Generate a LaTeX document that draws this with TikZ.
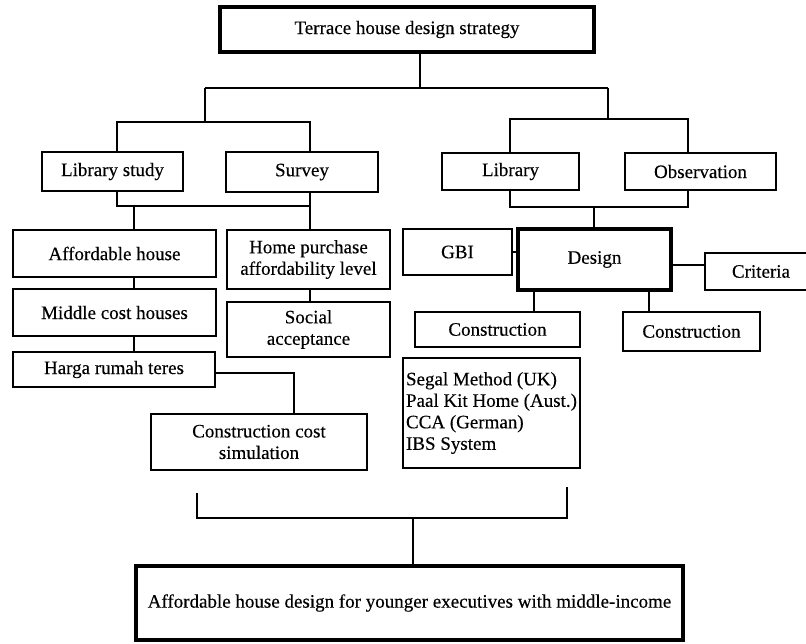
\documentclass[tikz,border=0pt]{standalone}
\usepackage{fontspec}
\setmainfont{Liberation Serif}[FakeBold=0.3]
\begin{document}
\begin{tikzpicture}[x=1pt,y=-1pt,
  box/.style={draw, line width=2.4pt, inner sep=0pt, align=center, font=\fontsize{19}{21.5}\selectfont},
  thickbox/.style={box, line width=4.2pt},
  conn/.style={line width=2.4pt, line join=miter}]
\useasboundingbox (0,0) rectangle (806,643);
% boxes
\node[thickbox, minimum width=374pt, minimum height=45pt] (top) at (407,29.5) {Terrace house design strategy};
\node[box, minimum width=141pt, minimum height=39pt] (libstudy) at (112.5,171.5) {Library study};
\node[box, minimum width=152pt, minimum height=40pt] (survey) at (302,172) {Survey};
\node[box, minimum width=137pt, minimum height=37pt] (library) at (510.5,171.5) {Library};
\node[box, minimum width=151pt, minimum height=37pt] (observ) at (700.5,171.5) {Observation};
\node[box, minimum width=203pt, minimum height=47pt] (afford) at (114.5,253.5) {Affordable house};
\node[box, minimum width=203pt, minimum height=47pt] (middle) at (114.5,312.5) {Middle cost houses};
\node[box, minimum width=202pt, minimum height=35pt] (harga) at (114,369.5) {Harga rumah teres};
\node[box, minimum width=163pt, minimum height=59pt] (home) at (308.5,259.5) {Home purchase\\affordability level};
\node[box, minimum width=163pt, minimum height=55pt] (social) at (308.5,329.5) {Social\\acceptance};
\node[box, minimum width=216pt, minimum height=56pt] (costsim) at (259,442) {Construction cost\\simulation};
\node[box, minimum width=109pt, minimum height=46pt] (gbi) at (457.5,252) {GBI};
\node[thickbox, minimum width=153pt, minimum height=61pt] (design) at (594.5,259.5) {Design};
\node[box, minimum width=112pt, minimum height=37pt] (criteria) at (761,271.5) {Criteria};
\node[box, minimum width=165pt, minimum height=35pt] (cons1) at (497.5,329.5) {Construction};
\node[box, minimum width=137pt, minimum height=39pt] (cons2) at (691.5,331.5) {Construction};
\node[box, minimum width=177pt, minimum height=110pt, align=left] (segal) at (491.5,413) {Segal Method (UK)\\Paal Kit Home (Aust.)\\CCA (German)\\IBS System};
\node[thickbox, minimum width=547pt, minimum height=74pt] (bottom) at (409.5,603) {Affordable house design for younger executives with middle-income};
% junction coordinates
\coordinate (j1) at (420,88);
\coordinate (jl) at (205,88);
\coordinate (jr) at (608,88);
\coordinate (jla) at (205,122);
\coordinate (jal) at (117,122);
\coordinate (jar) at (310,122);
\coordinate (jra) at (608,119);
\coordinate (jbl) at (510,119);
\coordinate (jbr) at (688,119);
\coordinate (jsl) at (117,206);
\coordinate (jsr) at (310,206);
\coordinate (jsm) at (134,206);
\coordinate (jol) at (510,207);
\coordinate (jor) at (688,207);
\coordinate (jom) at (594,207);
\coordinate (jc) at (294,373);
\coordinate (jd) at (690,265);
\coordinate (jx1) at (534,300);
\coordinate (jx2) at (649,300);
\coordinate (bl) at (197,493);
\coordinate (blc) at (197,518);
\coordinate (brc) at (567,518);
\coordinate (br) at (567,487);
\coordinate (bm) at (413,518);
% connectors
\draw[conn] (top.south -| j1) -- (j1);
\draw[conn] (jl) -- (jr);
\draw[conn] (jl) -- (jla);
\draw[conn] (libstudy.north -| jal) -- (jal) -- (jar) -- (survey.north -| jar);
\draw[conn] (jr) -- (jra);
\draw[conn] (library.north -| jbl) -- (jbl) -- (jbr) -- (observ.north -| jbr);
\draw[conn] (libstudy.south -| jsl) -- (jsl) -- (jsr) -- (survey.south -| jsr);
\draw[conn] (jsm) -- (afford.north -| jsm);
\draw[conn] (jsr) -- (home.north -| jsr);
\draw[conn] (afford.south -| jsm) -- (middle.north -| jsm);
\draw[conn] (middle.south -| jsm) -- (harga.north -| jsm);
\draw[conn] (home.south -| jsr) -- (social.north -| jsr);
\draw[conn] (harga.east |- jc) -- (jc) -- (costsim.north -| jc);
\draw[conn] (library.south -| jol) -- (jol) -- (jor) -- (observ.south -| jor);
\draw[conn] (jom) -- (design.north -| jom);
\draw[conn] (gbi.east) -- (design.west |- gbi.east);
\draw[conn] (design.east |- jd) -- (criteria.west |- jd);
\draw[conn] (design.south -| jx1) -- (cons1.north -| jx1);
\draw[conn] (design.south -| jx2) -- (cons2.north -| jx2);
\draw[conn] (bl) -- (blc) -- (brc) -- (br);
\draw[conn] (bm) -- (bottom.north -| bm);
\end{tikzpicture}
\end{document}
